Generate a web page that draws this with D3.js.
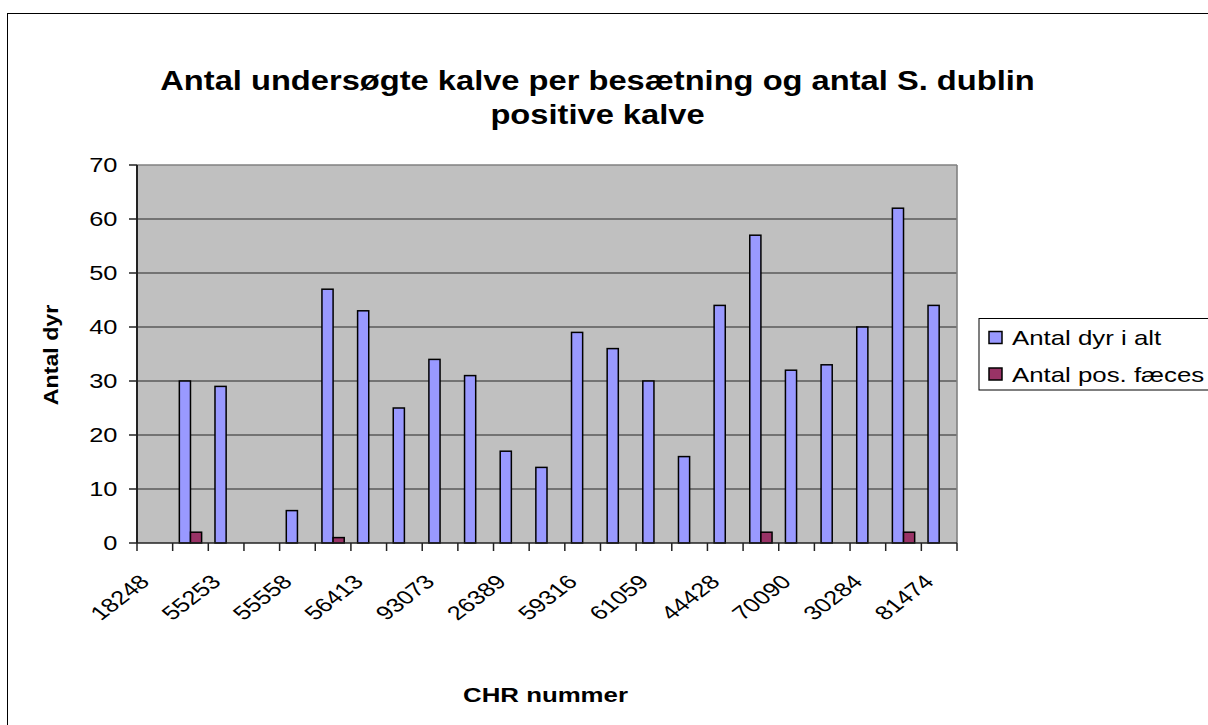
<!DOCTYPE html>
<html>
<head>
<meta charset="utf-8">
<script src="https://cdn.jsdelivr.net/npm/d3@7"></script>
<style>
  body { margin: 0; background: #fff; }
  text { font-family: 'Liberation Sans', Arial, sans-serif; fill: #000; }
</style>
</head>
<body>
<div class="dataGraph"></div>
<script>
'use strict';

// CHR numbers, only every second one is printed on the axis
var categories = ['18248', '', '55253', '', '55558', '', '56413', '', '93073', '',
  '26389', '', '59316', '', '61059', '', '44428', '', '70090', '', '30284', '', '81474'];
var series = ['Antal dyr i alt', 'Antal pos. fæces'];
var dyrIAlt = [0, 30, 29, 0, 6, 47, 43, 25, 34, 31, 17, 14, 39, 36, 30, 16, 44, 57, 32, 33, 40, 62, 44];
var posFaeces = [0, 2, 0, 0, 0, 1, 0, 0, 0, 0, 0, 0, 0, 0, 0, 0, 0, 2, 0, 0, 0, 2, 0];
var yTicks = [0, 10, 20, 30, 40, 50, 60, 70];
var colors = ['#9999FF', '#993366'];

var W = 1208, H = 725;
var margin = {top: 165, right: 251, bottom: 182, left: 137},
  width = W - margin.left - margin.right,
  height = H - margin.top - margin.bottom;

var svg = d3.select('.dataGraph').append('svg')
  .attr('width', W)
  .attr('height', H);

// chart area border (runs off the picture at right and bottom)
svg.append('rect')
  .attr('x', 7.5).attr('y', 13.5)
  .attr('width', 1400).attr('height', 900)
  .attr('fill', 'none').attr('stroke', '#000').attr('stroke-width', 1);

var g = svg.append('g')
  .attr('transform', 'translate(' + margin.left + ',' + margin.top + ')');

var x0 = d3.scaleBand()
  .domain(d3.range(categories.length))
  .range([0, width]);

var x1 = d3.scaleBand()
  .domain(series)
  .range([0, x0.bandwidth()])
  .paddingOuter(0.6);

var y = d3.scaleLinear()
  .domain([0, 70])
  .range([height, 0]);

g.append('rect')
  .attr('width', width).attr('height', height)
  .attr('fill', '#C0C0C0');

// gridlines
g.selectAll('.grid')
  .data(yTicks.slice(1))
  .enter().append('line')
  .attr('x1', 0).attr('x2', width)
  .attr('y1', function(d) { return y(d); })
  .attr('y2', function(d) { return y(d); })
  .attr('stroke', function(d) { return d === 70 ? '#808080' : '#5a5a5a'; })
  .attr('stroke-width', 1.6);

g.append('line')
  .attr('x1', width).attr('x2', width)
  .attr('y1', 0).attr('y2', height)
  .attr('stroke', '#808080').attr('stroke-width', 1.6);

var rows = categories.map(function(c, i) {
  return {i: i, values: [dyrIAlt[i], posFaeces[i]]};
});

var grp = g.selectAll('.cat')
  .data(rows)
  .enter().append('g')
  .attr('transform', function(d) { return 'translate(' + x0(d.i) + ',0)'; });

grp.selectAll('rect')
  .data(function(d) {
    return d.values.map(function(v, k) { return {key: series[k], k: k, value: v}; });
  })
  .enter().filter(function(d) { return d.value > 0; })
  .append('rect')
  .attr('x', function(d) { return x1(d.key); })
  .attr('width', x1.bandwidth())
  .attr('y', function(d) { return y(d.value); })
  .attr('height', function(d) { return height - y(d.value); })
  .attr('fill', function(d) { return colors[d.k]; })
  .attr('stroke', '#000')
  .attr('stroke-width', 1.5);

// axes
g.append('line')
  .attr('x1', 0).attr('x2', 0).attr('y1', 0).attr('y2', height)
  .attr('stroke', '#222').attr('stroke-width', 2);
g.append('line')
  .attr('x1', 0).attr('x2', width).attr('y1', height).attr('y2', height)
  .attr('stroke', '#222').attr('stroke-width', 1.6);

g.selectAll('.ytick')
  .data(yTicks)
  .enter().append('line')
  .attr('x1', -8).attr('x2', 0)
  .attr('y1', function(d) { return y(d); })
  .attr('y2', function(d) { return y(d); })
  .attr('stroke', '#222').attr('stroke-width', 1.5);

g.selectAll('.ylab')
  .data(yTicks)
  .enter().append('text')
  .attr('transform', function(d) { return 'translate(-19.5,' + y(d) + ') scale(1.27,1)'; })
  .attr('dy', '0.36em')
  .attr('text-anchor', 'end')
  .style('font-size', '20px')
  .text(function(d) { return d; });

g.selectAll('.xtick')
  .data(d3.range(categories.length + 1))
  .enter().append('line')
  .attr('x1', function(d) { return d * x0.step(); })
  .attr('x2', function(d) { return d * x0.step(); })
  .attr('y1', height).attr('y2', height + 8)
  .attr('stroke', '#222').attr('stroke-width', 1.5);

g.selectAll('.xlab')
  .data(rows.filter(function(d) { return categories[d.i] !== ''; }))
  .enter().append('text')
  .attr('transform', function(d) {
    return 'translate(' + (x0(d.i) + x0.bandwidth() / 2 - 4) + ',' + (height + 40) + ') scale(1.3,1) rotate(-45)';
  })
  .attr('text-anchor', 'end')
  .style('font-size', '19.5px')
  .text(function(d) { return categories[d.i]; });

// titles
var title = svg.append('g')
  .attr('transform', 'translate(597.5,0) scale(1.21,1)');
title.append('text').attr('y', 90).attr('text-anchor', 'middle')
  .style('font-size', '27px').style('font-weight', 'bold')
  .text('Antal undersøgte kalve per besætning og antal S. dublin');
title.append('text').attr('y', 124).attr('text-anchor', 'middle')
  .style('font-size', '27px').style('font-weight', 'bold')
  .text('positive kalve');

svg.append('text')
  .attr('transform', 'translate(545.5,702) scale(1.23,1)')
  .attr('text-anchor', 'middle')
  .style('font-size', '21px').style('font-weight', 'bold')
  .text('CHR nummer');

svg.append('text')
  .attr('transform', 'translate(58,355) rotate(-90) scale(1.16,1)')
  .attr('text-anchor', 'middle')
  .style('font-size', '20px').style('font-weight', 'bold')
  .text('Antal dyr');

// legend
var legend = svg.append('g').attr('transform', 'translate(979,318.5)');
legend.append('rect')
  .attr('width', 260).attr('height', 71.5)
  .attr('fill', '#fff').attr('stroke', '#000').attr('stroke-width', 1);

var item = legend.selectAll('.item')
  .data(series)
  .enter().append('g')
  .attr('transform', function(d, i) { return 'translate(10,' + (13 + i * 36.5) + ')'; });

item.append('rect')
  .attr('width', 13).attr('height', 12)
  .attr('fill', function(d, i) { return colors[i]; })
  .attr('stroke', '#000').attr('stroke-width', 1.5);

item.append('text')
  .attr('transform', 'translate(23,13.5) scale(1.23,1)')
  .style('font-size', '21px')
  .text(function(d) { return d; });
</script>
</body>
</html>
